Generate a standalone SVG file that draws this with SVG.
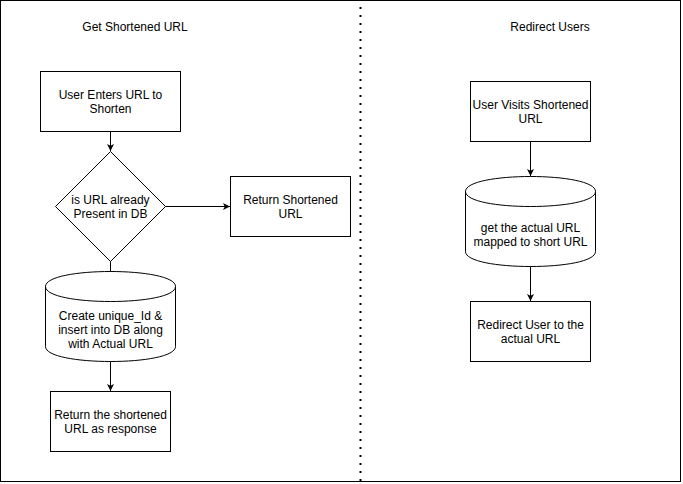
<svg xmlns="http://www.w3.org/2000/svg" width="683" height="484" viewBox="0 0 683 484">
<style>
.s{fill:#fff;stroke:#000;stroke-width:1}
.t{font-family:"Liberation Sans",Arial,sans-serif;font-size:12px;fill:#000;text-anchor:middle}
.c{fill:none;stroke:#000;stroke-width:1}
</style>
<defs>
<marker id="ah" viewBox="0 0 10 10" refX="10" refY="5" markerWidth="7" markerHeight="7" markerUnits="userSpaceOnUse" orient="auto">
<path d="M0,0 L10,5 L0,10 L2.5,5 Z" fill="#000"/>
</marker>
</defs>
<rect x="0.5" y="0.5" width="680" height="481" fill="#fff" stroke="#000" stroke-width="1"/>
<line x1="360.5" y1="7" x2="360.5" y2="484" stroke="#000" stroke-width="2" stroke-dasharray="2 6"/>
<g id="title-left"><text class="t" x="135" y="31">Get Shortened URL</text></g>
<g id="title-right"><text class="t" x="550" y="31">Redirect Users</text></g>
<g id="connectors">
<line class="c" x1="110.5" y1="131" x2="110.5" y2="151" marker-end="url(#ah)"/>
<line class="c" x1="165" y1="206.5" x2="230" y2="206.5" marker-end="url(#ah)"/>
<line class="c" x1="110.5" y1="261" x2="110.5" y2="272"/>
<line class="c" x1="110.5" y1="361" x2="110.5" y2="391" marker-end="url(#ah)"/>
<line class="c" x1="530.5" y1="141" x2="530.5" y2="176" marker-end="url(#ah)"/>
<line class="c" x1="530.5" y1="266" x2="530.5" y2="301" marker-end="url(#ah)"/>
</g>
<g id="n1">
<rect class="s" x="40.5" y="71.5" width="140" height="60"/>
<text class="t" x="110.5" y="99">User Enters URL to</text>
<text class="t" x="110.5" y="113">Shorten</text>
</g>
<g id="n2">
<path class="s" d="M110.5,151.5 L165.5,206.5 L110.5,261.5 L55.5,206.5 Z"/>
<text class="t" x="110.5" y="204">is URL already</text>
<text class="t" x="110.5" y="218">Present in DB</text>
</g>
<g id="n3">
<rect class="s" x="230.5" y="176.5" width="120" height="60"/>
<text class="t" x="290.5" y="204">Return Shortened</text>
<text class="t" x="290.5" y="218">URL</text>
</g>
<g id="n4">
<path class="s" d="M45.5,286.5 C45.5,266.5 175.5,266.5 175.5,286.5 L175.5,346.5 C175.5,366.5 45.5,366.5 45.5,346.5 Z"/>
<path class="c" d="M45.5,286.5 C45.5,306.5 175.5,306.5 175.5,286.5"/>
<text class="t" x="110.5" y="320">Create unique_Id &amp;</text>
<text class="t" x="110.5" y="334">insert into DB along</text>
<text class="t" x="110.5" y="348">with Actual URL</text>
</g>
<g id="n5">
<rect class="s" x="50.5" y="391.5" width="120" height="60"/>
<text class="t" x="110.5" y="419">Return the shortened</text>
<text class="t" x="110.5" y="433">URL as response</text>
</g>
<g id="n6">
<rect class="s" x="470.5" y="81.5" width="120" height="60"/>
<text class="t" x="530.5" y="109">User Visits Shortened</text>
<text class="t" x="530.5" y="123">URL</text>
</g>
<g id="n7">
<path class="s" d="M465.5,191.5 C465.5,171.5 595.5,171.5 595.5,191.5 L595.5,251.5 C595.5,271.5 465.5,271.5 465.5,251.5 Z"/>
<path class="c" d="M465.5,191.5 C465.5,211.5 595.5,211.5 595.5,191.5"/>
<text class="t" x="530.5" y="232">get the actual URL</text>
<text class="t" x="530.5" y="246">mapped to short URL</text>
</g>
<g id="n8">
<rect class="s" x="470.5" y="301.5" width="120" height="60"/>
<text class="t" x="530.5" y="329">Redirect User to the</text>
<text class="t" x="530.5" y="343">actual URL</text>
</g>
</svg>
